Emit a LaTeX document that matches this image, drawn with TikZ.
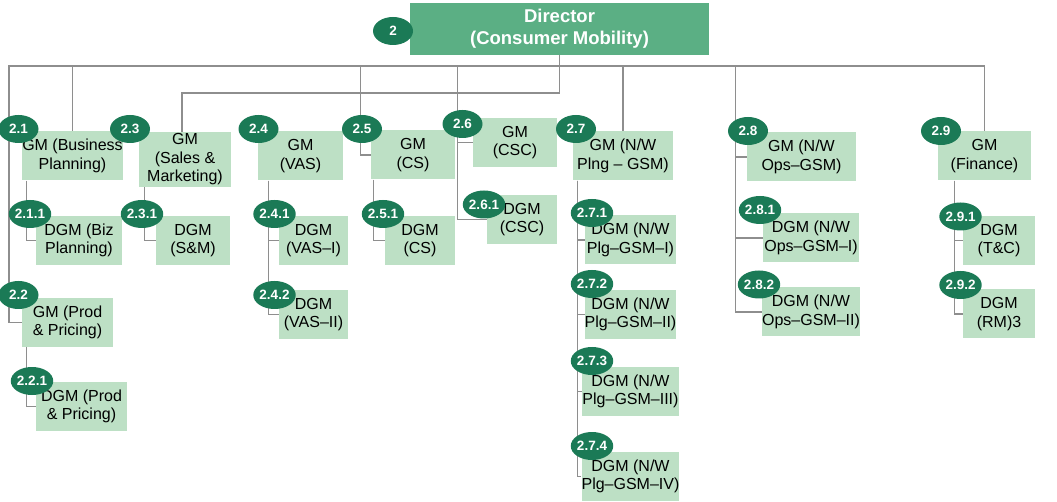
\documentclass[tikz,border=0pt]{standalone}
\usepackage{fontspec}
\setmainfont{Liberation Sans}
\usetikzlibrary{shapes.geometric,backgrounds}

\definecolor{dirgreen}{HTML}{5BAF84}
\definecolor{boxgreen}{HTML}{BDE0C5}
\definecolor{badgegreen}{HTML}{1B7A56}
\definecolor{linegray}{HTML}{8E8E8E}

\begin{document}
\begin{tikzpicture}[
    x=1pt, y=-1pt,
    every node/.style={font=\fontsize{16}{18.5}\selectfont, align=center, inner sep=0pt},
    director/.style={fill=dirgreen, text=white, font=\fontsize{18.5}{22}\selectfont\bfseries},
    post/.style={fill=boxgreen, minimum height=49},
    badge/.style={ellipse, fill=badgegreen, text=white, font=\fontsize{13.5}{13.5}\selectfont\bfseries,
                  minimum width=40, minimum height=28},
    link/.style={draw=linegray, line width=1.3}
  ]
  \useasboundingbox (0,0) rectangle (1057,502);

    %------------------ Director ------------------%
    \node[director, minimum width=299, minimum height=52] (dir) at (559.5,29) {Director\\(Consumer Mobility)};
    \coordinate (hub)  at (559.5,66);
    \coordinate (hub2) at (559.5,93);
    \coordinate (lft)  at (9,66);

    %------------------ GM level ------------------%
    \node[post, minimum width=101] (b21) at (72.5,156)  {GM (Business\\Planning)};
    \node[post, minimum width=91]  (b22) at (67.5,322.5) {GM (Prod\\\& Pricing)};
    \node[post, minimum width=92, minimum height=55] (b23) at (185,159.5) {GM\\(Sales \&\\Marketing)};
    \node[post, minimum width=85]  (b24) at (300.5,156) {GM\\(VAS)};
    \node[post, minimum width=84]  (b25) at (413,155)   {GM\\(CS)};
    \node[post, minimum width=84]  (b26) at (515,142.5) {GM\\(CSC)};
    \node[post, minimum width=100] (b27) at (623,156)   {GM (N/W\\Plng – GSM)};
    \node[post, minimum width=109] (b28) at (801.5,157) {GM (N/W\\Ops–GSM)};
    \node[post, minimum width=93]  (b29) at (984.5,156) {GM\\(Finance)};

    %------------------ DGM level ------------------%
    \node[post, minimum width=86] (b211) at (79,240.5)    {DGM (Biz\\Planning)};
    \node[post, minimum width=91] (b221) at (81.5,406.5)  {DGM (Prod\\\& Pricing)};
    \node[post, minimum width=74] (b231) at (193,240.5)   {DGM\\(S\&M)};
    \node[post, minimum width=69] (b241) at (313.5,240.5) {DGM\\(VAS–I)};
    \node[post, minimum width=69] (b242) at (313.5,314.5) {DGM\\(VAS–II)};
    \node[post, minimum width=70] (b251) at (420,240.5)   {DGM\\(CS)};
    \node[post, minimum width=70] (b261) at (522,219.5)   {DGM\\(CSC)};
    \node[post, minimum width=91] (b271) at (630.5,240)   {DGM (N/W\\Plg–GSM–I)};
    \node[post, minimum width=91] (b272) at (630.5,314.5) {DGM (N/W\\Plg–GSM–II)};
    \node[post, minimum width=91] (b273) at (630.5,391.5) {DGM (N/W\\Plg–GSM–III)};
    \node[post, minimum width=91] (b274) at (630.5,476.5) {DGM (N/W\\Plg–GSM–IV)};
    \node[post, minimum width=96] (b281) at (811,238)     {DGM (N/W\\Ops–GSM–I)};
    \node[post, minimum width=96] (b282) at (811,312)     {DGM (N/W\\Ops–GSM–II)};
    \node[post, minimum width=72] (b291) at (999,240.5)   {DGM\\(T\&C)};
    \node[post, minimum width=72] (b292) at (999,314)     {DGM\\(RM)3};

    %------------------ Number badges ------------------%
    \node[badge] (n2)   at (393,31)     {2};
    \node[badge] (n21)  at (18.5,129)   {2.1};
    \node[badge] (n22)  at (18.5,295)   {2.2};
    \node[badge] (n23)  at (130,129)    {2.3};
    \node[badge] (n24)  at (258.5,129)  {2.4};
    \node[badge] (n25)  at (362,129)    {2.5};
    \node[badge] (n26)  at (462.5,124)  {2.6};
    \node[badge] (n27)  at (576,129)    {2.7};
    \node[badge] (n28)  at (748,131)    {2.8};
    \node[badge] (n29)  at (941,131)    {2.9};
    \node[badge] (n211) at (30,214)     {2.1.1};
    \node[badge] (n221) at (32,381)     {2.2.1};
    \node[badge] (n231) at (142,214)    {2.3.1};
    \node[badge] (n241) at (274.5,214)  {2.4.1};
    \node[badge] (n242) at (274.5,295)  {2.4.2};
    \node[badge] (n251) at (383,214)    {2.5.1};
    \node[badge] (n261) at (484,204.5)  {2.6.1};
    \node[badge] (n271) at (592,213)    {2.7.1};
    \node[badge] (n272) at (592,284)    {2.7.2};
    \node[badge] (n273) at (592,361)    {2.7.3};
    \node[badge] (n274) at (592,446)    {2.7.4};
    \node[badge] (n281) at (760,210)    {2.8.1};
    \node[badge] (n282) at (759,284.5)  {2.8.2};
    \node[badge] (n291) at (960.5,216.5) {2.9.1};
    \node[badge] (n292) at (960.5,285)  {2.9.2};

    %------------------ Connectors ------------------%
    \begin{pgfonlayer}{background}
      % Director to GMs
      \draw[link] (dir.south) -- (hub2);
      \draw[link] (hub) -| (b21.north);
      \draw[link] (hub) -- (lft) |- (b22.west);
      \draw[link] (hub2) -| ([xshift=-3]b23.north);
      \draw[link] (b25.west) -- ++(-10,0) |- (hub);
      \draw[link] (b26.west) -- ++(-15,0) |- (hub);
      \draw[link] (hub) -| (b27.north);
      \draw[link] (b28.west) -- ++(-11,0) |- (hub);
      \draw[link] (hub) -| (b29.north);

      % GMs to DGMs
      \draw[link] ([xshift=5]b21.south west) |- (b211.west);
      \draw[link] ([xshift=5]b22.south west) |- (b221.west);
      \draw[link] ([xshift=6]b23.south west) |- (b231.west);
      \draw[link] ([xshift=11]b24.south west) |- (b241.west);
      \draw[link] ([xshift=11]b24.south west) |- (b242.west);
      \draw[link] ([xshift=3]b25.south west) |- (b251.west);
      \draw[link] (b26.west) -- ++(-15,0) |- (b261.west);
      \draw[link] ([xshift=5]b27.south west) |- (b271.west);
      \draw[link] ([xshift=5]b27.south west) |- (b272.west);
      \draw[link] ([xshift=5]b27.south west) |- (b273.west);
      \draw[link] ([xshift=5]b27.south west) |- (b274.west);
      \draw[link] (b28.west) -- ++(-11,0) |- (b281.west);
      \draw[link] (b28.west) -- ++(-11,0) |- (b282.west);
      \draw[link] ([xshift=17]b29.south west) |- (b291.west);
      \draw[link] ([xshift=17]b29.south west) |- (b292.west);
    \end{pgfonlayer}

  \end{tikzpicture}
\end{document}
